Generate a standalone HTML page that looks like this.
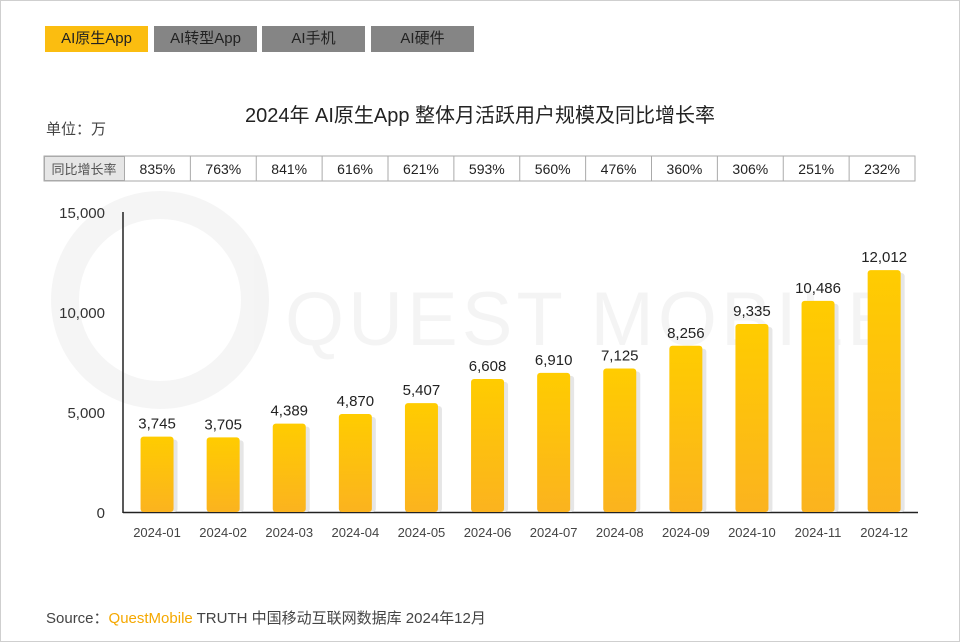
<!DOCTYPE html>
<html><head><meta charset="utf-8"><style>
body{margin:0;width:960px;height:642px;overflow:hidden;background:#fff;font-family:"Liberation Sans","Noto Sans CJK SC",sans-serif}
#frame{position:absolute;left:0;top:0;width:958px;height:640px;border:1px solid #cfcfcf}
.tab{position:absolute;top:26px;height:26px;line-height:26px;text-align:center;font-size:15px;color:#222;background:#858585}
</style></head><body>
<div id="frame"></div>
<div class="tab" style="left:45px;width:103px;background:#fbbd10">AI原生App</div>
<div class="tab" style="left:154px;width:103px">AI转型App</div>
<div class="tab" style="left:262px;width:103px">AI手机</div>
<div class="tab" style="left:371px;width:103px">AI硬件</div>
<svg id="chart" width="960" height="642" style="position:absolute;left:0;top:0">
<defs>
<linearGradient id="g" x1="0" y1="0" x2="0" y2="1"><stop offset="0" stop-color="#ffcc00"/><stop offset="1" stop-color="#fbb31f"/></linearGradient>
</defs>
<g opacity="0.04">
<circle cx="160" cy="300" r="95" fill="none" stroke="#000" stroke-width="28"/>
<text x="285" y="345" font-size="76" fill="#000" font-family="Liberation Sans" letter-spacing="4">QUEST MOBILE</text>
</g>
<text x="480" y="122" text-anchor="middle" font-size="20" fill="#222">2024年 AI原生App 整体月活跃用户规模及同比增长率</text>
<text x="46" y="134" font-size="15" fill="#444">单位：万</text>
<g id="table"></g>
<g id="axes"></g>
<g id="bars"></g>
<text x="46" y="623" font-size="15" fill="#444">Source：<tspan fill="#f5a800">QuestMobile</tspan> TRUTH 中国移动互联网数据库 2024年12月</text>
</svg>
<script>
const categories=["2024-01","2024-02","2024-03","2024-04","2024-05","2024-06","2024-07","2024-08","2024-09","2024-10","2024-11","2024-12"];
const values=[3745,3705,4389,4870,5407,6608,6910,7125,8256,9335,10486,12012];
const growth=["835%","763%","841%","616%","621%","593%","560%","476%","360%","306%","251%","232%"];
const yTicks=[0,5000,10000,15000];
const NS="http://www.w3.org/2000/svg";
function mk(t,a,p){const e=document.createElementNS(NS,t);for(const k in a)e.setAttribute(k,a[k]);p.appendChild(e);return e;}
const x0=124,step=66.1,base=512,top15=210;
const y=v=>base-(v/15000)*(base-top15);
const xc=i=>x0+step*(i+0.5);
const axes=document.getElementById('axes'),bars=document.getElementById('bars'),table=document.getElementById('table');
const yl=mk('line',{x1:123,y1:212,x2:123,y2:513,stroke:'#222','stroke-width':1.5},axes);


const xl=mk('line',{x1:123,y1:512.5,x2:918,y2:512.5,stroke:'#222','stroke-width':1.5},axes);


yTicks.forEach(t=>{const e=mk('text',{x:105,y:base-(t/15000)*300+6,'text-anchor':'end','font-size':15,fill:'#333'},axes);e.textContent=t.toLocaleString('en-US');

});
const tr=mk('rect',{x:44,y:156,width:871,height:25,fill:'#fff',stroke:'#aaa'},table);


const hc=mk('rect',{x:44.5,y:156.5,width:80,height:24,fill:'#e6e6e6',stroke:'#aaa'},table);


const ht=mk('text',{x:84,y:174,'text-anchor':'middle','font-size':13,fill:'#555'},table);ht.textContent='同比增长率';


const cw=(915-124.5)/12;
growth.forEach((g,i)=>{
 if(i>0){const l=mk('line',{x1:124.5+cw*i,y1:156,x2:124.5+cw*i,y2:181,stroke:'#aaa'},table);}
 const t=mk('text',{x:124.5+cw*(i+0.5),y:174,'text-anchor':'middle','font-size':14,fill:'#222'},table);t.textContent=g;
 
 
});
values.forEach((v,i)=>{
 const cx=xc(i),w=33,yt=y(v);
 const s=mk('rect',{x:cx-w/2+4,y:yt+3,width:w,height:base-yt-3,fill:'#e6e6e6',rx:3},bars);
 
 
 const b=mk('rect',{x:cx-w/2,y:yt,width:w,height:base-yt,fill:'url(#g)',rx:3},bars);
 
 
 const lb=mk('text',{x:cx,y:yt-8,'text-anchor':'middle','font-size':15,fill:'#222'},bars);lb.textContent=v.toLocaleString('en-US');
 
 
 const xt=mk('text',{x:cx,y:537,'text-anchor':'middle','font-size':13,fill:'#444'},bars);xt.textContent=categories[i];
 
 
});
</script>
</body></html>
